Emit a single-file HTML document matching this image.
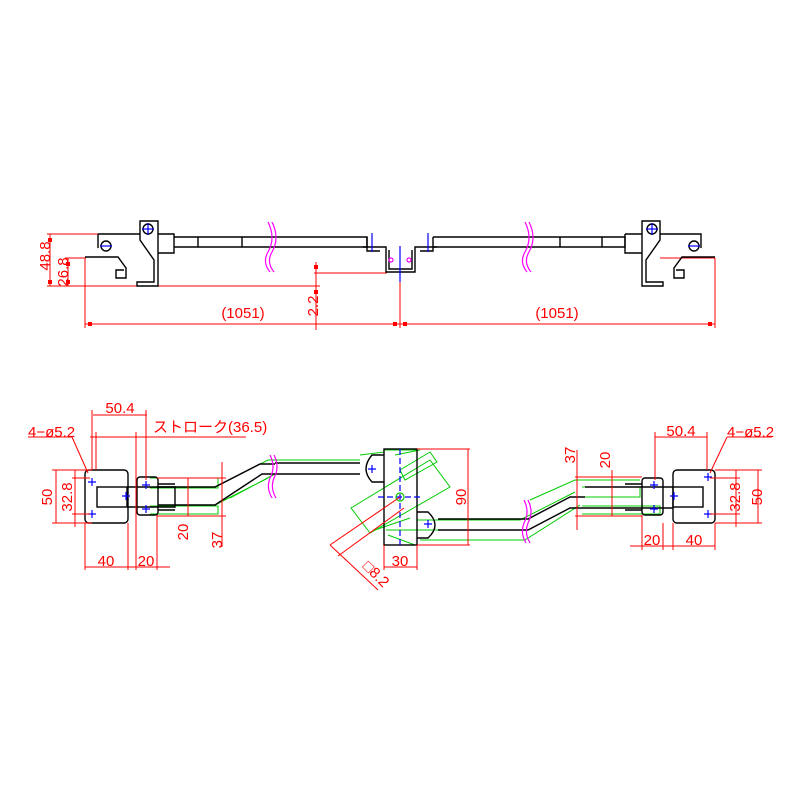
<!DOCTYPE html>
<html><head><meta charset="utf-8"><style>body{margin:0;background:#fff}svg{display:block}text{font-family:"Liberation Sans","Noto Sans CJK JP",sans-serif;fill:#f00;font-size:15px}</style></head><body>
<svg width="800" height="800" viewBox="0 0 800 800" xmlns="http://www.w3.org/2000/svg">
<rect width="800" height="800" fill="#fff"/>
<g stroke="#f00" stroke-width="1" fill="none">
<line x1="47" y1="234" x2="98" y2="234"/>
<line x1="65" y1="258" x2="86" y2="258"/>
<line x1="47" y1="286" x2="320" y2="286"/>
<line x1="50" y1="234" x2="50" y2="286"/>
<line x1="68" y1="258" x2="68" y2="286"/>
<line x1="85" y1="258" x2="85" y2="328"/>
<line x1="400" y1="246" x2="400" y2="328"/>
<line x1="715" y1="258" x2="715" y2="328"/>
<line x1="85" y1="324" x2="715" y2="324"/>
<line x1="316" y1="262" x2="316" y2="330"/>
<line x1="314" y1="273" x2="387" y2="273"/>
<line x1="660" y1="258" x2="715" y2="258"/>
</g>
<g fill="#f00">
<rect x="48" y="238" width="4" height="4"/><rect x="48" y="280" width="4" height="4"/>
<rect x="66" y="262" width="4" height="4"/><rect x="66" y="280" width="4" height="4"/>
<rect x="88" y="322" width="4" height="4"/><rect x="393" y="322" width="4" height="4"/>
<rect x="403" y="322" width="4" height="4"/><rect x="708" y="322" width="4" height="4"/>
<rect x="314" y="265" width="4" height="4"/><rect x="314" y="290" width="4" height="4"/>
</g>
<text x="243" y="318" text-anchor="middle">(1051)</text>
<text x="557" y="318" text-anchor="middle">(1051)</text>
<text transform="translate(50,256) rotate(-90)" text-anchor="middle">48.8</text>
<text transform="translate(68,272) rotate(-90)" text-anchor="middle">26.8</text>
<text transform="translate(318,306) rotate(-90)" text-anchor="middle">2.2</text>
<g stroke="#000" stroke-width="1.4" fill="none">
<path d="M98 234 H140 M158 234 H174 V253 H158 M98 234 V248"/>
<path d="M140 221 H158 V286 H137 V282 H154 V260 L140 240 Z"/>
<path d="M85 257 H118 L126 268 V278 H116 V270 H124"/>
<path d="M174 237 H367 V247 H174 M198 237 V247 M242 237 V247"/>
<circle cx="148" cy="229" r="5"/><circle cx="106" cy="246" r="5"/>
<path d="M363 247 H386 V272 H415 V247 H437 M389 250 V269 H412 V250"/>
<path d="M367 237 V251 H380 M433 237 V251 H420"/>
<path d="M433 237 H625 V247 H433 M560 237 V247 M602 237 V247"/>
<path d="M625 234 H642 M660 234 H701 V248 M625 234 V253 H642"/>
<path d="M660 221 H642 V286 H663 V282 H646 V260 L660 240 Z"/>
<path d="M715 257 H682 L674 268 V278 H684 V270 H676"/>
<circle cx="652" cy="229" r="5"/><circle cx="694" cy="246" r="5"/>
</g>
<g stroke="#00f" stroke-width="1.2">
<line x1="400" y1="246" x2="400" y2="282"/><line x1="372" y1="233" x2="372" y2="252"/><line x1="428" y1="233" x2="428" y2="252"/>
<line x1="142" y1="229" x2="154" y2="229"/><line x1="148" y1="223" x2="148" y2="235"/>
<line x1="646" y1="229" x2="658" y2="229"/><line x1="652" y1="223" x2="652" y2="235"/>
<line x1="100" y1="246" x2="112" y2="246"/><line x1="688" y1="246" x2="700" y2="246"/>
</g>
<g stroke="#f0f" stroke-width="1.2" fill="none">
<path d="M268 222 Q276 238 268 252 Q262 262 270 272"/><path d="M272 222 Q280 238 272 252 Q266 262 274 272"/>
<path d="M525 222 Q533 238 525 252 Q519 262 527 272"/><path d="M529 222 Q537 238 529 252 Q523 262 531 272"/>
<circle cx="391" cy="260" r="2"/><circle cx="409" cy="260" r="2"/>
</g>
<g stroke="#0c0" stroke-width="1" fill="none">
<path d="M150 478 H218 V488 H150 M150 506 H218 V514 H150"/>
<path d="M215 487 L268 460 H360 M215 505 L268 478 M230 498 L275 474 H360 M360 455 L384 452"/>
<path d="M384 450 H417 M395 455 L420 450"/>
<path d="M351 508 L430 460 L450 487 L370 533 Z"/>
<path d="M400 470 L430 452 L437 462 L405 480 Z"/>
<path d="M375 530 L410 518 M386 530 H450 M388 535 L415 545"/>
<path d="M417 520 H520 L575 492 M420 540 H525 L580 505 M530 500 L575 480 H640"/>
<path d="M582 487 H640 V497 H582 M582 506 H660 V514 H582"/>
</g>
<g stroke="#000" stroke-width="1.4" fill="none">
<rect x="85" y="470" width="43" height="53" rx="4"/>
<rect x="97" y="487" width="30" height="20"/>
<rect x="137" y="477" width="21" height="38" rx="3"/>
<path d="M128 487 H175 V507 H128 M158 484 H175 M158 510 H175"/>
<path d="M158 487 H215 L260 464 H275 M158 505 H215 L262 474 H275"/>
<path d="M275 463 H360 M275 474 H360"/>
<rect x="384" y="449" width="33" height="96"/>
<path d="M384 455 H372 Q360 469 372 482 H384"/>
<path d="M417 512 H428 Q442 525 428 538 H417"/>
<path d="M438 519 H520 M438 530 H520"/>
<path d="M520 519 H528 L570 497 H585 M520 530 H528 L570 508 H585"/>
<rect x="673" y="470" width="42" height="53" rx="4"/>
<rect x="673" y="487" width="30" height="20"/>
<rect x="642" y="478" width="21" height="37" rx="3"/>
<path d="M585 487 H673 M585 508 H673 M625 484 H642 M625 510 H642"/>
</g>
<g stroke="#00f" stroke-width="1.2" fill="none">
<line x1="400" y1="449" x2="400" y2="545" stroke-dasharray="6 3"/>
<line x1="378" y1="497" x2="422" y2="497" stroke-dasharray="6 3"/>
<circle cx="400" cy="497" r="4" stroke="#0c0"/>
<path d="M92 478 v8 M88 482 h8 M92 510 v8 M88 514 h8 M146 481 v8 M142 485 h8 M146 505 v8 M142 509 h8 M126 492 v8 M122 496 h8 M372 465 v8 M368 469 h8 M428 520 v8 M424 524 h8"/>
<path d="M708 473 v8 M704 477 h8 M708 510 v8 M704 514 h8 M654 481 v8 M650 485 h8 M654 505 v8 M650 509 h8 M674 492 v8 M670 496 h8"/>
</g>
<g stroke="#f0f" stroke-width="1.2" fill="none">
<path d="M270 455 Q276 467 270 478 Q266 488 272 498"/><path d="M274 455 Q280 467 274 478 Q270 488 276 498"/>
<path d="M524 500 Q530 512 524 523 Q520 533 526 543"/><path d="M528 500 Q534 512 528 523 Q524 533 530 543"/>
</g>
<g stroke="#f00" stroke-width="1" fill="none">
<line x1="93" y1="415" x2="147" y2="415"/><line x1="92" y1="410" x2="92" y2="470"/><line x1="146" y1="410" x2="146" y2="480"/>
<line x1="90" y1="437" x2="246" y2="437"/><line x1="96" y1="432" x2="96" y2="470"/><line x1="136" y1="432" x2="136" y2="570"/>
<line x1="28" y1="437" x2="72" y2="437"/><line x1="72" y1="437" x2="88" y2="473"/>
<line x1="52" y1="470" x2="92" y2="470"/><line x1="52" y1="523" x2="92" y2="523"/>
<line x1="56" y1="470" x2="56" y2="523"/><line x1="72" y1="478" x2="90" y2="478"/><line x1="72" y1="514" x2="90" y2="514"/><line x1="75" y1="470" x2="75" y2="527"/>
<line x1="85" y1="523" x2="85" y2="570"/><line x1="128" y1="523" x2="128" y2="570"/><line x1="157" y1="515" x2="157" y2="570"/>
<line x1="85" y1="567" x2="170" y2="567"/>
<line x1="157" y1="478" x2="226" y2="478"/><line x1="157" y1="516" x2="226" y2="516"/>
<line x1="188" y1="478" x2="188" y2="516"/><line x1="222" y1="462" x2="222" y2="547"/>
<line x1="384" y1="545" x2="384" y2="570"/><line x1="417" y1="545" x2="417" y2="570"/><line x1="384" y1="567" x2="417" y2="567"/>
<line x1="417" y1="449" x2="470" y2="449"/><line x1="417" y1="545" x2="470" y2="545"/><line x1="468" y1="449" x2="468" y2="545"/>
<line x1="330" y1="545" x2="400" y2="497"/><line x1="338" y1="556" x2="404" y2="508"/><line x1="330" y1="545" x2="378" y2="590"/>
<line x1="655" y1="437" x2="707" y2="437"/><line x1="655" y1="432" x2="655" y2="480"/><line x1="707" y1="432" x2="707" y2="470"/>
<line x1="727" y1="437" x2="772" y2="437"/><line x1="727" y1="437" x2="710" y2="473"/>
<line x1="715" y1="470" x2="762" y2="470"/><line x1="715" y1="523" x2="762" y2="523"/><line x1="758" y1="470" x2="758" y2="523"/>
<line x1="710" y1="478" x2="740" y2="478"/><line x1="710" y1="514" x2="740" y2="514"/><line x1="736" y1="470" x2="736" y2="527"/>
<line x1="630" y1="546" x2="715" y2="546"/><line x1="642" y1="515" x2="642" y2="550"/><line x1="663" y1="523" x2="663" y2="550"/><line x1="673" y1="523" x2="673" y2="550"/><line x1="715" y1="523" x2="715" y2="550"/>
<line x1="575" y1="477" x2="642" y2="477"/><line x1="575" y1="516" x2="642" y2="516"/>
<line x1="577" y1="450" x2="577" y2="530"/><line x1="612" y1="470" x2="612" y2="516"/>
</g>
<text x="120" y="413" text-anchor="middle">50.4</text>
<text x="153" y="432">ストローク(36.5)</text>
<text x="28" y="437">4−ø5.2</text>
<text transform="translate(52,497) rotate(-90)" text-anchor="middle">50</text>
<text transform="translate(72,497) rotate(-90)" text-anchor="middle">32.8</text>
<text x="106" y="566" text-anchor="middle">40</text>
<text x="146" y="566" text-anchor="middle">20</text>
<text transform="translate(188,532) rotate(-90)" text-anchor="middle">20</text>
<text transform="translate(222,540) rotate(-90)" text-anchor="middle">37</text>
<text x="400" y="566" text-anchor="middle">30</text>
<text transform="translate(466,497) rotate(-90)" text-anchor="middle">90</text>
<text transform="translate(362,567) rotate(45)">□8.2</text>
<text x="681" y="436" text-anchor="middle">50.4</text>
<text x="727" y="437">4−ø5.2</text>
<text transform="translate(762,497) rotate(-90)" text-anchor="middle">50</text>
<text transform="translate(740,497) rotate(-90)" text-anchor="middle">32.8</text>
<text x="652" y="545" text-anchor="middle">20</text>
<text x="694" y="545" text-anchor="middle">40</text>
<text transform="translate(610,460) rotate(-90)" text-anchor="middle">20</text>
<text transform="translate(575,455) rotate(-90)" text-anchor="middle">37</text>
</svg>
</body></html>
